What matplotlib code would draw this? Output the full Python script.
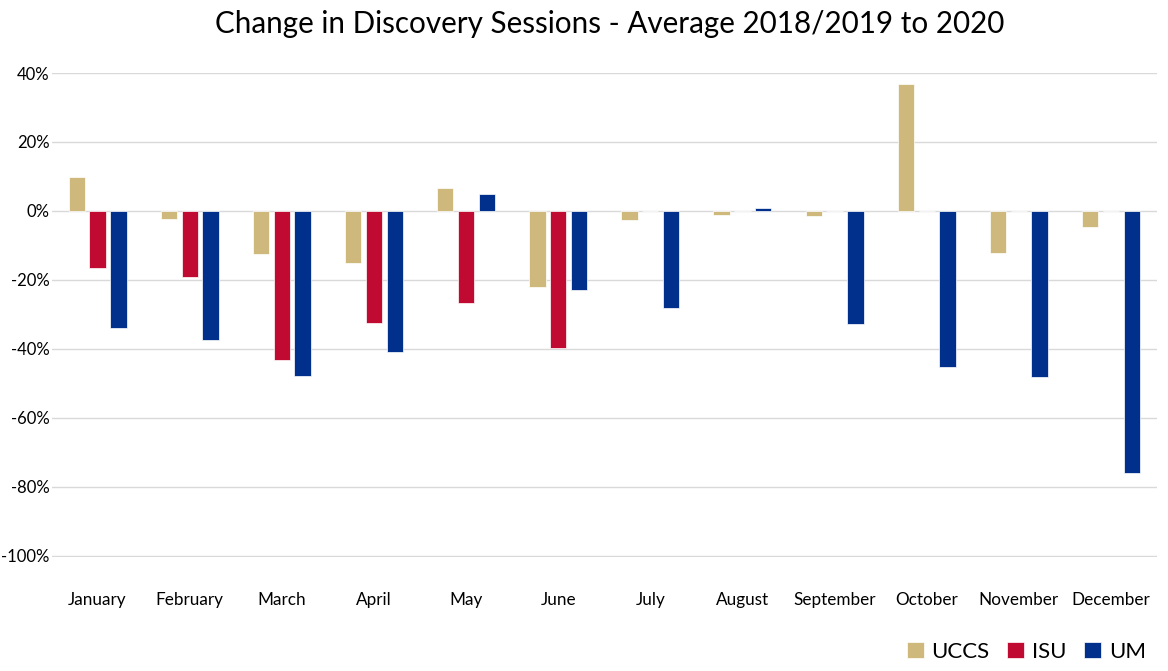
import matplotlib.pyplot as plt
import numpy as np

months = ['January', 'February', 'March', 'April', 'May', 'June',
          'July', 'August', 'September', 'October', 'November', 'December']
uccs = [9.8, -2.4, -12.6, -15.2, 6.6, -22.0, -2.6, -1.1, -1.4, 36.8, -12.1, -4.8]
isu = [-16.6, -19.3, -43.2, -32.4, -26.8, -39.8, 0, 0, 0, 0, 0, 0]
um = [-34.0, -37.4, -47.8, -40.8, 4.8, -22.9, -28.2, 0.7, -32.8, -45.3, -48.1, -76.1]
yticks = [40, 20, 0, -20, -40, -60, -80, -100]

colors = ['#CFB87C', '#C10A31', '#00308B']
names = ['UCCS', 'ISU', 'UM']

plt.rcParams['font.family'] = ['Lato', 'DejaVu Sans']

fig = plt.figure(figsize=(11.68, 6.71), dpi=100)
ax = fig.add_axes([0.0441, 0.1699, 0.9465, 0.7213])

x = np.arange(len(months))
w = 0.177
step = 0.226
for i, (vals, c, n) in enumerate(zip([uccs, isu, um], colors, names)):
    ax.bar(x + (i - 1) * step, vals, width=w, color=c, label=n,
           edgecolor='white', linewidth=0.5, zorder=3)

ax.set_xlim(-0.5, 11.5)
ax.set_ylim(-100.4, 40)
ax.set_yticks(yticks)
ax.set_yticklabels([f'{t}%' for t in yticks], fontsize=12)
ax.tick_params(axis='y', length=0, pad=1.5)
ax.grid(axis='y', color='#D9D9D9', linewidth=1, zorder=0)
for s in ax.spines.values():
    s.set_visible(False)

ax.set_xticks([])
for xi, m in zip(x, months):
    ax.text(xi, -110.5, m, ha='center', va='top', fontsize=12.3)

fig.suptitle('Change in Discovery Sessions - Average 2018/2019 to 2020',
             fontsize=21.3, x=0.522, y=0.985)

leg = fig.legend(loc='lower right', bbox_to_anchor=(0.998, -0.016), ncol=3,
                 frameon=False, fontsize=16, handlelength=0.75, handleheight=0.75,
                 handletextpad=0.35, columnspacing=0.8)

fig.savefig('out.png', dpi=100)
